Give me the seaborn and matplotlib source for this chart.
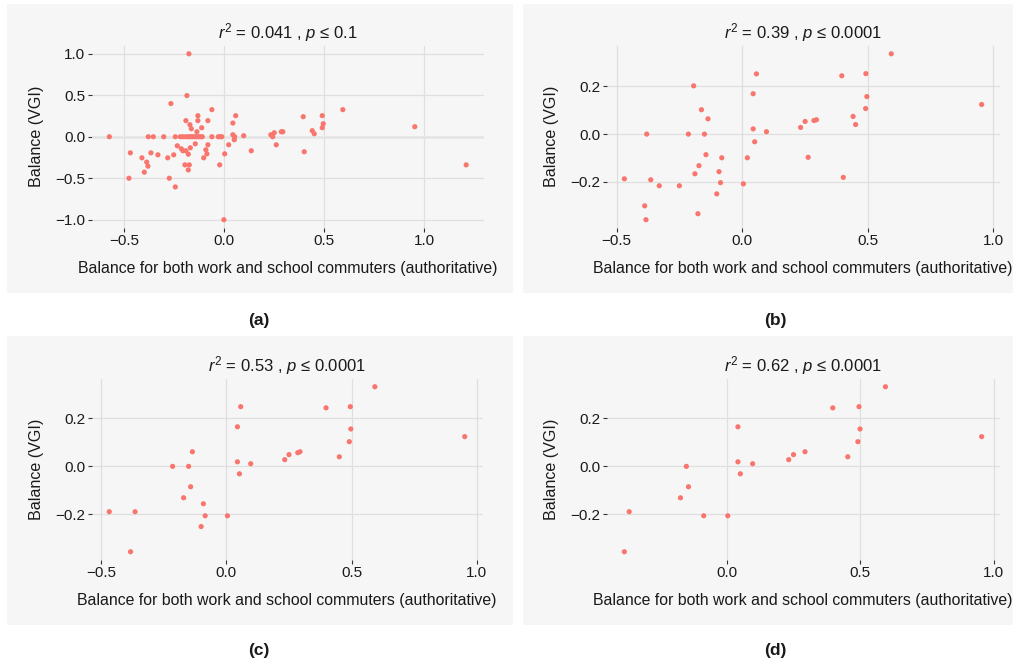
import matplotlib
matplotlib.use("Agg")
import matplotlib.pyplot as plt
from matplotlib.patches import Rectangle
from matplotlib.ticker import FixedLocator, FuncFormatter
import seaborn as sns
import pandas as pd

# ---- data -----------------------------------------------------------------
titles = [
    r"$r^2$ = 0.041 , $p$ ≤ 0.1",
    r"$r^2$ = 0.39 , $p$ ≤ 0.0001",
    r"$r^2$ = 0.53 , $p$ ≤ 0.0001",
    r"$r^2$ = 0.62 , $p$ ≤ 0.0001",
]
panel_tags = ["(a)", "(b)", "(c)", "(d)"]
x_label = "Balance for both work and school commuters (authoritative)"
y_label = "Balance (VGI)"

a_x = [-0.575, -0.47, -0.477, -0.412, -0.40, -0.388, -0.382, -0.38, -0.355, -0.367,
       -0.332, -0.303, -0.283, -0.275, -0.267, -0.253, -0.245, -0.245, -0.235,
       -0.22, -0.207, -0.192, -0.18, -0.17, -0.16, -0.15, -0.14, -0.13, -0.12, -0.11,
       -0.215, -0.207, -0.192, -0.18, -0.17, -0.145, -0.103, -0.092, -0.087, -0.082,
       -0.023, 0.002, 0.022, -0.002, -0.197, -0.175, -0.18, 0.135, 0.097, 0.043,
       0.05, 0.052, 0.043, 0.057, 0.233, 0.242, 0.25, 0.26, 0.285, 0.293,
       0.395, 0.40, 0.44, 0.45, 0.49, 0.495, 0.49, 0.593, 0.953, 1.21,
       -0.062, -0.03, -0.02, -0.012, -0.137, -0.165, -0.113, -0.132, -0.082, -0.192,
       -0.172, -0.132, -0.062, -0.187, -0.177]
a_y = [0.0, -0.194, -0.5, -0.254, -0.427, -0.306, -0.355, 0.0, 0.0, -0.194,
       -0.218, 0.0, -0.254, -0.5, 0.40, -0.218, -0.605, 0.0, -0.109,
       0.0, 0.0, 0.0, 0.0, 0.0, 0.0, 0.0, 0.0, 0.0, 0.0, 0.0,
       -0.145, -0.169, -0.169, -0.21, -0.133, -0.085, -0.254, -0.157, -0.206, -0.097,
       -0.339, -0.206, -0.097, -1.0, -0.339, -0.339, -0.40, -0.169, 0.012, 0.024,
       -0.036, 0.0, 0.165, 0.254, 0.024, 0.0, 0.048, -0.097, 0.06, 0.06,
       0.242, -0.181, 0.073, 0.036, 0.254, 0.157, 0.109, 0.327, 0.121, -0.339,
       0.0, 0.0, 0.0, 0.0, 0.06, 0.097, 0.109, 0.194, 0.194, 0.194,
       0.145, 0.254, 0.327, 0.496, 1.0]

b_x = [-0.469, -0.38, -0.388, -0.383, -0.364, -0.33, -0.25, -0.214, -0.193, -0.188,
       -0.176, -0.172, -0.162, -0.15, -0.144, -0.136, -0.101, -0.092, -0.086, -0.081,
       0.005, 0.021, 0.044, 0.044, 0.05, 0.057, 0.097,
       0.594, 0.397, 0.493, 0.497, 0.492, 0.442, 0.452, 0.233, 0.251, 0.286, 0.296,
       0.263, 0.403, 0.954]
b_y = [-0.187, 0.0, -0.30, -0.358, -0.191, -0.216, -0.216, 0.0, 0.202, -0.166,
       -0.333, -0.132, 0.102, 0.0, -0.086, 0.064, -0.25, -0.157, -0.203, -0.099,
       -0.208, -0.099, 0.169, 0.022, -0.032, 0.252, 0.01,
       0.336, 0.244, 0.253, 0.157, 0.107, 0.074, 0.04, 0.028, 0.053, 0.057, 0.06,
       -0.097, -0.181, 0.124]

c_x = [-0.468, -0.365, -0.383, -0.215, -0.151, -0.136, -0.143, -0.171, -0.092, -0.085,
       -0.101, 0.004, 0.044, 0.057, 0.044, 0.052, 0.097, 0.233, 0.25,
       0.593, 0.398, 0.495, 0.497, 0.491, 0.451, 0.285, 0.294, 0.952]
c_y = [-0.189, -0.189, -0.356, 0.0, 0.0, 0.061, -0.085, -0.131, -0.156, -0.206,
       -0.251, -0.206, 0.165, 0.249, 0.019, -0.031, 0.011, 0.028, 0.049,
       0.332, 0.244, 0.249, 0.156, 0.103, 0.04, 0.057, 0.061, 0.124]

d_x = [-0.383, -0.365, -0.151, -0.143, -0.173, -0.086, 0.004, 0.042, 0.042, 0.051,
       0.097, 0.232, 0.25, 0.594, 0.397, 0.495, 0.499, 0.491, 0.453, 0.293, 0.954]
d_y = [-0.356, -0.189, 0.0, -0.085, -0.131, -0.206, -0.206, 0.165, 0.019, -0.031,
       0.011, 0.028, 0.049, 0.332, 0.244, 0.249, 0.156, 0.103, 0.04, 0.061, 0.124]

x_ticks = [[-0.5, 0.0, 0.5, 1.0], [-0.5, 0.0, 0.5, 1.0], [-0.5, 0.0, 0.5, 1.0], [0.0, 0.5, 1.0]]
y_ticks = [[-1.0, -0.5, 0.0, 0.5, 1.0], [-0.2, 0.0, 0.2], [-0.2, 0.0, 0.2], [-0.2, 0.0, 0.2]]

panels = [(a_x, a_y), (b_x, b_y), (c_x, c_y), (d_x, d_y)]

# ---- style ----------------------------------------------------------------
sns.set_theme(style="white")
plt.rcParams["font.family"] = ["Liberation Sans", "DejaVu Sans"]
plt.rcParams["mathtext.fontset"] = "custom"
plt.rcParams["mathtext.rm"] = "Liberation Sans"
plt.rcParams["mathtext.it"] = "Liberation Sans:italic"
plt.rcParams["axes.unicode_minus"] = True

W, H = 1017, 664
fig = plt.figure(figsize=(W / 100, H / 100), dpi=100)
fig.patch.set_facecolor("white")

panel_bg = "#f6f6f6"
grid_col = "#dfdfdf"
text_col = "#1a1a1a"
point_col = "#F8766D"

# background boxes (pixel coords: left, top, right, bottom)
boxes = [(7, 4, 513, 293), (523, 4, 1013, 293), (7, 336, 513, 625), (523, 336, 1013, 625)]
# plotting areas in pixels
areas = [(91.5, 45.5, 484, 228), (606.5, 45.5, 999.5, 228),
         (91.5, 378.5, 482.5, 560), (606.5, 378.5, 999.5, 560)]
tag_pos = [(259, 320), (775, 320), (259, 651), (775, 651)]


def fmt(v, pos=None):
    s = f"{v:.1f}"
    return s.replace("-", "\u2212")


for l, t, r, b in boxes:
    fig.patches.append(Rectangle((l / W, 1 - b / H), (r - l) / W, (b - t) / H,
                                 transform=fig.transFigure, facecolor=panel_bg,
                                 edgecolor="none", zorder=-10))

for i, ((xs, ys), area) in enumerate(zip(panels, areas)):
    al, at, ar, ab = area
    ax = fig.add_axes([al / W, 1 - ab / H, (ar - al) / W, (ab - at) / H])
    ax.set_zorder(5)
    ax.set_facecolor(panel_bg)
    df = pd.DataFrame({"x": xs, "y": ys})
    sns.scatterplot(data=df, x="x", y="y", ax=ax, color=point_col, s=14,
                    linewidth=0, edgecolor="none", zorder=3)
    ax.margins(0.05)
    ax.xaxis.set_major_locator(FixedLocator(x_ticks[i]))
    ax.yaxis.set_major_locator(FixedLocator(y_ticks[i]))
    ax.xaxis.set_major_formatter(FuncFormatter(fmt))
    ax.yaxis.set_major_formatter(FuncFormatter(fmt))
    ax.set_axisbelow(True)
    ax.grid(True, color=grid_col, linewidth=0.9)
    if i == 0:
        ax.axhline(0, color="#e4e4e4", linewidth=1.8, zorder=1)
    for sp in ax.spines.values():
        sp.set_visible(False)
    ax.tick_params(axis="both", which="major", length=3, width=0.8, color="#333333",
                   labelsize=11, labelcolor=text_col, pad=1.5,
                   bottom=True, left=True)
    ax.set_xlabel(x_label, fontsize=11.4, color=text_col, labelpad=9)
    ax.set_ylabel(y_label, fontsize=11.6, color=text_col, labelpad=8)
    ax.set_title(titles[i], fontsize=12, color=text_col, pad=5)
    tx, ty = tag_pos[i]
    fig.text(tx / W, 1 - ty / H, panel_tags[i], ha="center", va="center",
             fontsize=12.5, fontweight="bold", color=text_col)

fig.savefig("out.png", dpi=100, facecolor="white")
